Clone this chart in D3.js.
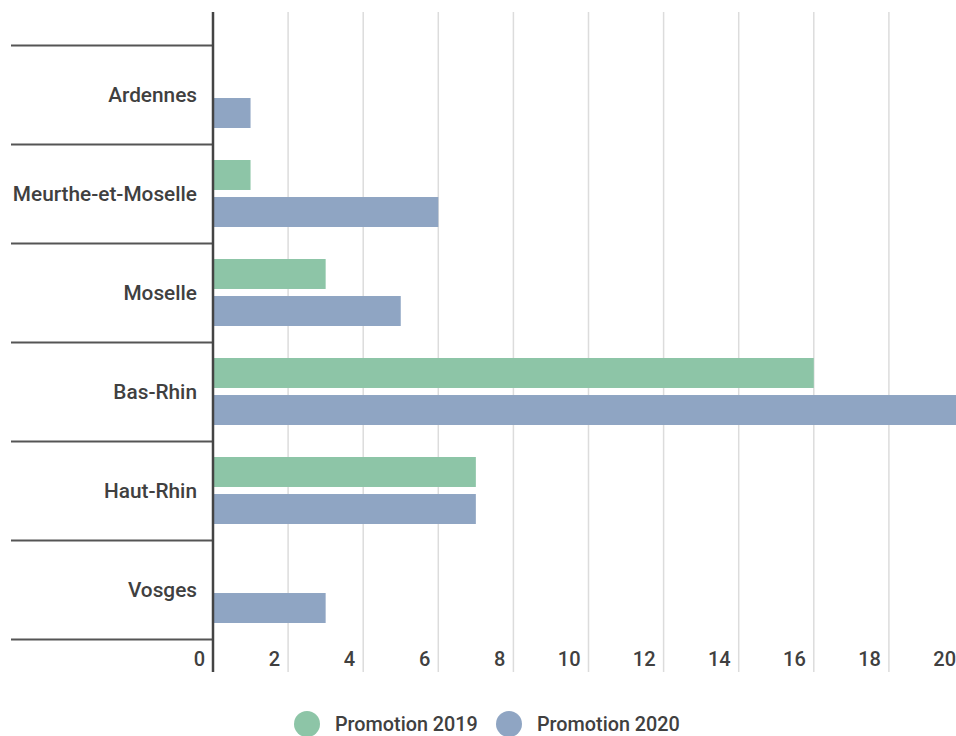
<!DOCTYPE html>
<html>
<head>
<meta charset="utf-8">
<script src="https://cdn.jsdelivr.net/npm/d3@7"></script>
<style>
  html, body { margin: 0; padding: 0; background: #fff; }
  svg { display: block; font-family: Roboto, "Noto Sans", sans-serif; }
</style>
</head>
<body>
<svg id="chart" width="956" height="736"></svg>
<script>
const categories = ["Ardennes", "Meurthe-et-Moselle", "Moselle", "Bas-Rhin", "Haut-Rhin", "Vosges"];
const seriesNames = ["Promotion 2019", "Promotion 2020"];
const values2019 = [0, 1, 3, 16, 7, 0];
const values2020 = [1, 6, 5, 20, 7, 3];
const xTicks = [0, 2, 4, 6, 8, 10, 12, 14, 16, 18, 20];
const seriesColors = ["#8dc5a7", "#8fa5c3"];

const svg = d3.select("#chart");
const textColor = "#404040";
const fontWeight = 500;

const x = d3.scaleLinear().domain([0, 20]).range([213, 964]);
const y = d3.scaleBand().domain(categories).range([45.5, 639.5]).padding(0);
const ySub = d3.scaleBand().domain(seriesNames).range([15.5, 82.5]).paddingInner(0.19);
const color = d3.scaleOrdinal().domain(seriesNames).range(seriesColors);

// grid lines
svg.append("g").selectAll("line").data(xTicks.filter(t => t > 0)).join("line")
  .attr("x1", d => x(d)).attr("x2", d => x(d))
  .attr("y1", 12).attr("y2", 672)
  .attr("stroke", "#dcdcdc").attr("stroke-width", 1.5);

// bars
const rows = categories.map((c, i) => ({ cat: c, vals: [values2019[i], values2020[i]] }));
const g = svg.append("g").selectAll("g").data(rows).join("g")
  .attr("transform", d => `translate(0,${y(d.cat)})`);
g.selectAll("rect").data(d => d.vals.map((v, j) => ({ s: seriesNames[j], v })).filter(e => e.v > 0)).join("rect")
  .attr("x", x(0)).attr("y", d => ySub(d.s))
  .attr("width", d => x(d.v) - x(0)).attr("height", ySub.bandwidth())
  .attr("fill", d => color(d.s));

// row separators
const bounds = categories.map(c => y(c)).concat([y(categories[categories.length - 1]) + y.bandwidth()]);
svg.append("g").selectAll("line").data(bounds).join("line")
  .attr("x1", 11).attr("x2", 213)
  .attr("y1", d => d).attr("y2", d => d)
  .attr("stroke", "#555").attr("stroke-width", 1.8);

// axis line
svg.append("line").attr("x1", 213).attr("x2", 213).attr("y1", 12).attr("y2", 672)
  .attr("stroke", "#444").attr("stroke-width", 2.5);

// category labels
svg.append("g").selectAll("text").data(categories).join("text")
  .attr("x", 197).attr("y", d => y(d) + y.bandwidth() / 2)
  .attr("text-anchor", "end").attr("dominant-baseline", "central")
  .attr("font-size", 20.8).attr("font-weight", fontWeight).attr("fill", textColor).text(d => d);

// tick labels
svg.append("g").selectAll("text").data(xTicks).join("text")
  .attr("x", d => x(d) - 8).attr("y", 659)
  .attr("text-anchor", "end").attr("dominant-baseline", "central")
  .attr("font-size", 20).attr("font-weight", fontWeight).attr("fill", textColor).text(d => d);

// legend
const legendX = [307, 509];
const legend = svg.append("g").selectAll("g").data(seriesNames).join("g")
  .attr("transform", (d, i) => `translate(${legendX[i]},724)`);
legend.append("circle").attr("r", 13).attr("fill", d => color(d));
legend.append("text").attr("x", 28).attr("dominant-baseline", "central")
  .attr("font-size", 19.8).attr("font-weight", fontWeight).attr("fill", textColor).text(d => d);
</script>
</body>
</html>
